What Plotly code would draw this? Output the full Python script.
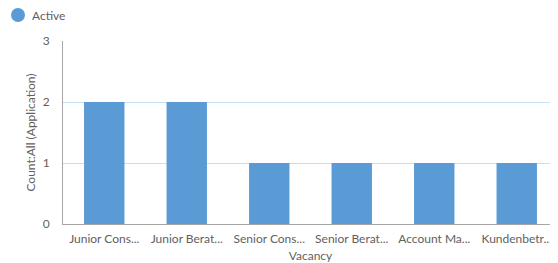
import plotly.graph_objects as go

categories = ["Junior Cons...", "Junior Berat...", "Senior Cons...", "Senior Berat...", "Account Ma...", "Kundenbetr..."]
active_counts = [2, 2, 1, 1, 1, 1]
y_ticks = [0, 1, 2, 3]
series_name = "Active"

bar_color = "#5B9BD5"
text_color = "#5F5F5F"
font_family = "Lato, Open Sans, sans-serif"

# page body has an 8px margin, so the figure is offset by 8px
W, H = 550, 255
ML, MR, MT, MB = 55, 0, 33, 39
PW, PH = W - ML - MR, H - MT - MB


def px_x(x):
    return (x - 8 - ML) / PW


def px_y(y):
    return (H - MB - (y - 8)) / PH


fig = go.Figure()
fig.add_trace(go.Bar(
    x=categories, y=active_counts, name=series_name,
    marker=dict(color=bar_color, line=dict(width=0)),
    width=0.49, showlegend=False,
))

# legend drawn as a compact marker + label (matches reference spacing)
fig.add_shape(
    type="circle", xref="paper", yref="paper",
    xsizemode="pixel", ysizemode="pixel",
    xanchor=px_x(18), yanchor=px_y(15),
    x0=-7, x1=7, y0=-7, y1=7,
    fillcolor=bar_color, line=dict(width=0),
)
fig.add_annotation(
    text=series_name, xref="paper", yref="paper",
    x=px_x(30), y=px_y(15),
    xanchor="left", yanchor="middle", showarrow=False,
    font=dict(size=12, color=text_color),
)

fig.update_layout(
    width=W, height=H,
    margin=dict(l=ML, r=MR, t=MT, b=MB, autoexpand=False),
    paper_bgcolor="white", plot_bgcolor="white",
    font=dict(family=font_family, size=12, color=text_color),
    showlegend=False,
    xaxis=dict(
        title=dict(text="Vacancy", font=dict(size=12), standoff=7),
        showline=True, linecolor="#A6A6A6", linewidth=1,
        showgrid=False, ticks="", tickfont=dict(size=12),
        categoryorder="array", categoryarray=categories,
        automargin=True, ticklabelstandoff=4,
    ),
    yaxis=dict(
        title=dict(text="Count:All (Application)", font=dict(size=12), standoff=4),
        range=[0, 3], tickvals=y_ticks,
        showline=True, linecolor="#A6A6A6", linewidth=1,
        showgrid=True, gridcolor="#C7DFF3", gridwidth=1,
        zeroline=False, ticks="", ticklabelstandoff=10,
        automargin=True,
    ),
)

fig.write_html("out.html")
